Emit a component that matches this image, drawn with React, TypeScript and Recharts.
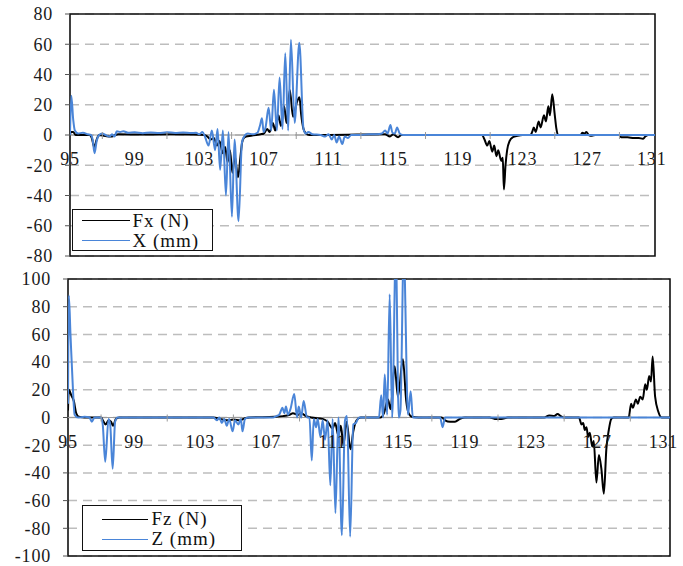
import React from 'react';
import {
  LineChart,
  Line,
  XAxis,
  YAxis,
  CartesianGrid,
  ReferenceLine,
  ReferenceDot,
  ReferenceArea,
  Legend
} from 'recharts';

// x labels sit on the zero line, minor ticks between them
const xLabels = [95, 99, 103, 107, 111, 115, 119, 123, 127, 131];
const xMinorTicks = [97, 101, 105, 109, 113, 117, 121, 125, 129];
const topYTicks = [-80, -60, -40, -20, 0, 20, 40, 60, 80];
const bottomYTicks = [-100, -80, -60, -40, -20, 0, 20, 40, 60, 80, 100];

// [position, value] pairs
const fxForce = [
  [95.0, 0], [95.05, 2], [95.2, 2], [95.35, 0], [96.2, 0], [96.35, -2], [96.5, -8], [96.65, -3], [96.8, 0],
  [97.4, -1], [97.6, -1], [97.8, 0], [98.0, 0.5], [99.5, 0.3], [101, 0.5], [102.5, 0.3], [103.3, 0],
  [103.5, -1], [103.7, -3], [103.9, -2], [104.1, -7], [104.25, -4], [104.45, -12], [104.6, -8], [104.75, -18],
  [104.9, -10], [105.05, -25], [105.2, -14], [105.4, -28], [105.55, -14], [105.65, -5], [105.75, -2], [105.9, -1],
  [106.2, -0.5], [106.5, 0], [106.8, 0.5], [107.0, 1], [107.2, 4], [107.35, 2], [107.55, 8], [107.7, 3],
  [107.9, 13], [108.05, 6], [108.25, 19], [108.4, 8], [108.6, 30], [108.8, 12], [109.05, 22], [109.2, 25],
  [109.3, 14], [109.45, 4], [109.6, 1], [109.8, 0], [111, 0], [114.5, 0.5], [114.8, -1], [115.0, 0.5],
  [115.3, -1.5], [115.5, 0], [120.5, 0], [120.65, -3], [120.82, -7], [120.95, -4], [121.13, -11], [121.25, -7],
  [121.39, -14], [121.5, -10], [121.68, -17], [121.78, -15], [121.85, -36], [121.95, -20], [122.05, -10],
  [122.2, -4], [122.4, -1.5], [122.7, -0.5], [123.0, 0], [123.5, 0], [123.6, 2], [123.7, 5], [123.82, 2],
  [124.0, 9], [124.12, 5], [124.33, 13], [124.45, 9], [124.6, 19], [124.7, 13], [124.84, 27], [125.0, 13],
  [125.1, 4], [125.2, 0], [126.6, 0], [126.7, 1.5], [126.85, 1], [126.95, 2], [127.1, 0], [127.3, -0.5],
  [127.5, 0], [129.0, 0], [129.1, -1.5], [129.5, -1.5], [129.9, -2], [130.2, -2], [130.45, -2.5], [130.6, -1],
  [130.8, 0], [131.2, 0]
];

const xDisp = [
  [95.0, 0], [95.08, 26], [95.2, 10], [95.3, 3], [95.5, 1], [95.8, 1.5], [96.1, 0.5], [96.3, 0], [96.4, -3],
  [96.52, -12], [96.65, -4], [96.8, 0], [97.0, 1], [97.2, 0], [97.45, -1], [97.6, 0.5], [97.75, -1], [97.9, 2.5],
  [98.1, 2], [98.3, 2.5], [98.6, 1.5], [99.0, 1.8], [99.5, 1.2], [100.0, 1.7], [100.5, 1.3], [101.0, 1.8],
  [101.5, 1.4], [102.0, 1.7], [102.5, 1.3], [102.8, 1.5], [103.0, 0.5], [103.2, 2], [103.35, -1], [103.57, -7],
  [103.78, 3], [103.98, -10], [104.13, 4], [104.29, -23], [104.46, 3], [104.65, -40], [104.81, 2], [105.02, -54],
  [105.18, -3], [105.43, -57], [105.64, -5], [105.84, 0], [106.0, 1], [106.3, 0.5], [106.6, 1.5], [106.75, 6],
  [106.88, 11], [106.98, 2], [107.1, 5], [107.29, 18], [107.45, 3], [107.62, 30], [107.8, 3], [107.97, 38],
  [108.15, 4], [108.32, 54], [108.5, 3], [108.67, 63], [108.9, 8], [109.19, 61], [109.45, 4], [109.6, 1],
  [109.75, 2], [110.0, 0.5], [110.5, 0], [110.8, -1], [111.0, 0.5], [111.2, -3], [111.35, 0], [111.5, -5],
  [111.65, -1], [111.85, -6], [112.0, -1], [112.2, -2], [112.4, 0], [113.0, 0], [113.5, 0.5], [114.0, 0.5],
  [114.3, 1], [114.5, 3], [114.65, 1], [114.83, 6.6], [114.95, 1.5], [115.1, 1], [115.24, 5], [115.4, 1],
  [115.6, 0], [116.0, 0], [131.2, 0]
];

const fzForce = [
  [95.0, 5], [95.05, 20], [95.2, 16], [95.35, 12], [95.5, 3], [95.65, 0.5], [96.0, 0], [97.0, 0], [97.15, -3],
  [97.28, -5], [97.45, -2], [97.6, -3], [97.72, -6], [97.9, -1], [98.1, 0], [103.8, 0], [104.2, -1], [104.6, -2],
  [105.0, -1.5], [105.4, -2], [105.7, -0.5], [106.0, 0], [107.5, 0.5], [108.0, 1], [108.4, 2], [108.6, 3],
  [108.9, 2], [109.1, 3], [109.4, 1], [109.7, 0], [110.4, -1], [110.7, -3], [111.0, -8], [111.15, -4],
  [111.35, -13], [111.5, -6], [111.65, -20], [111.85, -3], [112.08, -23], [112.25, -10], [112.45, -2],
  [112.7, 0], [113.9, 0], [114.1, 3], [114.35, 13], [114.5, 6], [114.75, 37], [114.95, 15], [115.25, 42],
  [115.45, 12], [115.6, 3], [115.8, 0.5], [116.2, 0], [117.6, 0], [117.8, -2], [118.1, -3], [118.4, -3],
  [118.7, -1], [119.0, 0], [120.5, 0], [120.8, -1], [121.2, -1], [121.6, 0], [123.8, 0], [124.1, 1.5],
  [124.4, 1], [124.6, 2.5], [124.8, 1], [125.0, 0], [125.9, 0], [126.05, -5], [126.15, -4], [126.25, -9],
  [126.35, -7], [126.45, -14], [126.55, -11], [126.7, -21], [126.79, -17], [126.95, -47], [127.1, -27],
  [127.25, -37], [127.4, -55], [127.55, -23], [127.7, -9], [127.85, -1], [128.0, 0], [128.9, 0], [129.05, 10],
  [129.15, 7], [129.34, 13], [129.45, 10], [129.6, 15], [129.75, 13], [129.9, 24], [130.0, 20], [130.14, 30],
  [130.25, 26], [130.35, 44], [130.5, 15], [130.7, 4], [130.9, 0], [131.4, 0]
];

const zDisp = [
  [95.0, 10], [95.05, 88], [95.15, 60], [95.3, 20], [95.4, 2], [95.6, 0], [96.0, 0.5], [96.3, 0], [96.44, -3],
  [96.6, 0], [97.0, 0], [97.1, -5], [97.25, -32], [97.45, -1], [97.55, -5], [97.7, -37], [97.85, -3], [98.0, 0],
  [103.8, 0], [104.0, -2], [104.15, 0], [104.3, -4], [104.45, -1], [104.6, -6], [104.75, -1], [104.95, -10],
  [105.1, -2], [105.3, -5], [105.45, -1], [105.55, -10], [105.7, -1], [105.9, 0], [107.4, 0], [107.6, 1],
  [107.77, 2], [107.97, 7], [108.08, 3], [108.18, 8], [108.3, 2], [108.45, 6], [108.68, 17], [108.85, 0],
  [108.95, 8], [109.1, 0], [109.25, 12], [109.45, 0], [109.6, 0], [109.74, -31], [109.86, -1], [110.0, -7],
  [110.1, -1], [110.26, -14], [110.4, -2], [110.54, -16], [110.7, -2], [110.86, -49], [111.0, -1],
  [111.17, -69], [111.35, 0], [111.56, -85], [111.75, -2], [111.87, 1], [112.06, -86], [112.25, -5],
  [112.4, -4], [112.6, 0], [113.8, 0], [113.94, 16], [114.05, 0], [114.15, 31], [114.3, 2], [114.45, 89],
  [114.6, 0], [114.82, 120], [115.0, 0], [115.1, 5], [115.3, 120], [115.56, 2], [115.72, 19], [115.85, 0],
  [117.5, 0], [117.65, -7], [117.8, 0], [131.4, 0]
];

const toPts = (arr: number[][]) => arr.map(([x, y]) => ({ x, y }));

const FONT = "'Times New Roman', 'Liberation Serif', serif";
const BLUE = '#4a85d8';

interface LegendLayout {
  left: number;
  top: number;
  width: number;
  height: number;
  lineStart: number;
  lineWidth: number;
  textGap: number;
  padTop: number;
  rowH: number;
}

function LegendBox({ payload, layout }: { payload?: any[]; layout: LegendLayout }) {
  return (
    <div
      style={{
        boxSizing: 'border-box',
        width: layout.width,
        height: layout.height,
        border: '1.5px solid #111',
        background: '#fff',
        paddingTop: layout.padTop,
        fontFamily: FONT,
        fontSize: 19,
        lineHeight: `${layout.rowH}px`,
        color: '#111'
      }}
    >
      {(payload || []).map((item) => (
        <div key={item.value} style={{ display: 'flex', alignItems: 'center', height: layout.rowH, whiteSpace: 'nowrap' }}>
          <span
            style={{
              display: 'inline-block',
              marginLeft: layout.lineStart,
              width: layout.lineWidth,
              borderTop: `1.5px solid ${item.color}`,
              marginRight: layout.textGap
            }}
          />
          <span style={{ letterSpacing: 1 }}>{item.value}</span>
        </div>
      ))}
    </div>
  );
}

interface PanelProps {
  width: number;
  height: number;
  margin: { top: number; right: number; bottom: number; left: number };
  yAxisWidth: number;
  xDomain: [number, number];
  yDomain: [number, number];
  yTicks: number[];
  force: number[][];
  disp: number[][];
  forceName: string;
  dispName: string;
  legend: LegendLayout;
}

function Panel(p: PanelProps) {
  return (
    <LineChart width={p.width} height={p.height} margin={p.margin} style={{ fontFamily: FONT }}>
      <XAxis type="number" dataKey="x" domain={p.xDomain} allowDataOverflow hide />
      <YAxis
        type="number"
        domain={p.yDomain}
        ticks={p.yTicks}
        allowDataOverflow
        width={p.yAxisWidth}
        axisLine={false}
        tickSize={5}
        tickMargin={12}
        tickLine={{ stroke: '#555', strokeWidth: 1 }}
        tick={{ fill: '#1a1a1a', fontSize: 18, fontFamily: FONT, letterSpacing: 0.8 }}
        interval={0}
      />
      <CartesianGrid horizontal vertical={false} stroke="#bdbdbd" strokeWidth={1.5} strokeDasharray="9 6" />
      <ReferenceLine y={0} stroke="#9a9a9a" strokeWidth={1} />
      {xMinorTicks.map((t) => (
        <ReferenceDot
          key={`m${t}`}
          x={t}
          y={0}
          r={0}
          shape={(s: any) => <line x1={s.cx} x2={s.cx} y1={s.cy - 3} y2={s.cy + 4} stroke="#9a9a9a" strokeWidth={1} />}
        />
      ))}
      {xLabels.map((t) => (
        <ReferenceDot
          key={`l${t}`}
          x={t}
          y={0}
          r={0}
          shape={(s: any) => (
            <text x={s.cx} y={s.cy + 30} textAnchor="middle" fontSize={18} fontFamily={FONT} fill="#1a1a1a" letterSpacing={0.8}>
              {t}
            </text>
          )}
        />
      ))}
      <Line
        data={toPts(p.force)}
        dataKey="y"
        name={p.forceName}
        type="monotone"
        stroke="#000"
        strokeWidth={2}
        dot={false}
        isAnimationActive={false}
      />
      <Line
        data={toPts(p.disp)}
        dataKey="y"
        name={p.dispName}
        type="monotone"
        stroke={BLUE}
        strokeWidth={2}
        dot={false}
        isAnimationActive={false}
      />
      <ReferenceArea
        x1={p.xDomain[0]}
        x2={p.xDomain[1]}
        y1={p.yDomain[0]}
        y2={p.yDomain[1]}
        fill="none"
        stroke="#111"
        strokeWidth={1.6}
      />
      <Legend
        layout="horizontal"
        verticalAlign="middle"
        align="center"
        wrapperStyle={{ left: p.legend.left, top: p.legend.top, width: p.legend.width, height: p.legend.height }}
        content={(props: any) => <LegendBox payload={props.payload} layout={p.legend} />}
      />
    </LineChart>
  );
}

export default function App() {
  return (
    <div style={{ position: 'absolute', left: 0, top: 0, width: 683, height: 566, background: '#fff' }}>
      <div style={{ position: 'absolute', left: 0, top: 0 }}>
        <Panel
          width={683}
          height={270}
          margin={{ top: 14, right: 28, bottom: 14, left: 0 }}
          yAxisWidth={70}
          xDomain={[95, 131.2]}
          yDomain={[-80, 80]}
          yTicks={topYTicks}
          force={fxForce}
          disp={xDisp}
          forceName="Fx (N)"
          dispName="X (mm)"
          legend={{ left: 72, top: 209, width: 141, height: 42, lineStart: 8.5, lineWidth: 48, textGap: 3, padTop: 0.5, rowH: 20 }}
        />
      </div>
      <div style={{ position: 'absolute', left: 0, top: 270 }}>
        <Panel
          width={683}
          height={296}
          margin={{ top: 9, right: 13, bottom: 10, left: 0 }}
          yAxisWidth={68}
          xDomain={[95, 131.4]}
          yDomain={[-100, 100]}
          yTicks={bottomYTicks}
          force={fzForce}
          disp={zDisp}
          forceName="Fz (N)"
          dispName="Z (mm)"
          legend={{ left: 82, top: 235, width: 160, height: 46, lineStart: 18.5, lineWidth: 46, textGap: 4, padTop: 3, rowH: 20 }}
        />
      </div>
    </div>
  );
}
